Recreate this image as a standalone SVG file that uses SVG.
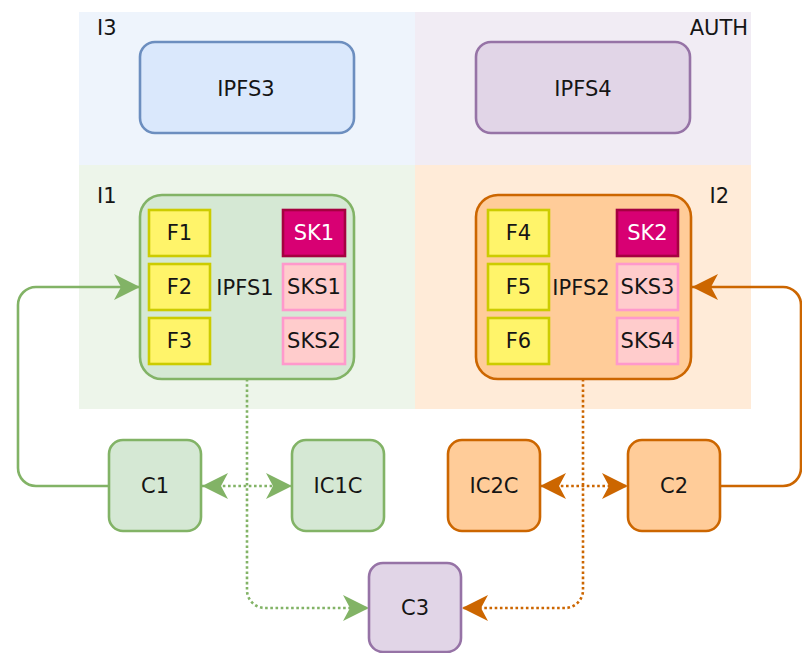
<svg xmlns="http://www.w3.org/2000/svg" width="802" height="653" viewBox="0 0 802 653">
<defs>
<style>
text{font-family:"DejaVu Sans","Liberation Sans",sans-serif;font-size:21px;fill:#151515;text-anchor:middle}
.lbl{text-anchor:start}
.end{text-anchor:end}
.f{fill:#fff46a;stroke:#cccc00;stroke-width:2.6}
.sk{fill:#d80073;stroke:#a50040;stroke-width:2.6}
.sks{fill:#ffcccc;stroke:#ff99cc;stroke-width:2.6}
.g{fill:#d5e8d4;stroke:#82b366;stroke-width:2.6}
.o{fill:#ffcc99;stroke:#cc6600;stroke-width:2.6}
.p{fill:#e1d5e7;stroke:#9673a6;stroke-width:2.6}
.b{fill:#dae8fc;stroke:#6c8ebf;stroke-width:2.6}
.cg{fill:none;stroke:#82b366;stroke-width:2.6}
.co{fill:none;stroke:#cc6600;stroke-width:2.6}
.dot{stroke-dasharray:2.6 2.6}
</style>
<marker id="ag" viewBox="0 0 26 26" refX="26" refY="13" markerWidth="26" markerHeight="26" markerUnits="userSpaceOnUse" orient="auto-start-reverse"><path d="M0,0 L26,13 L0,26 L7,13 Z" fill="#82b366"/></marker>
<marker id="ao" viewBox="0 0 26 26" refX="26" refY="13" markerWidth="26" markerHeight="26" markerUnits="userSpaceOnUse" orient="auto-start-reverse"><path d="M0,0 L26,13 L0,26 L7,13 Z" fill="#cc6600"/></marker>
</defs>
<g id="regions">
<rect x="79" y="12" width="336" height="153" fill="#eef4fc"/>
<rect x="415" y="12" width="336" height="153" fill="#f1ecf4"/>
<rect x="79" y="165" width="336" height="244" fill="#edf5ea"/>
<rect x="415" y="165" width="336" height="244" fill="#ffebd8"/>
<text class="lbl" x="97" y="35">I3</text>
<text class="end" x="748" y="35">AUTH</text>
<text class="lbl" x="97" y="203">I1</text>
<text class="end" x="729" y="203">I2</text>
</g>
<g id="connectors">
<path class="cg" d="M109,486 H36 A18,18 0 0 1 18,468 V305 A18,18 0 0 1 36,287 H140" marker-end="url(#ag)"/>
<path class="co" d="M720,486 H783 A18,18 0 0 0 801,468 V305 A18,18 0 0 0 783,287 H692" marker-end="url(#ao)"/>
<path class="cg dot" d="M247,379 V590 A18,18 0 0 0 265,608 H369" marker-end="url(#ag)"/>
<path class="co dot" d="M583,379 V590 A18,18 0 0 1 565,608 H462" marker-end="url(#ao)"/>
<path class="cg dot" d="M202,486 H292" marker-start="url(#ag)" marker-end="url(#ag)"/>
<path class="co dot" d="M540,486 H628" marker-start="url(#ao)" marker-end="url(#ao)"/>
</g>
<g id="IPFS3"><rect class="b" x="140" y="42" width="214" height="91" rx="15"/><text x="246" y="96">IPFS3</text></g>
<g id="IPFS4"><rect class="p" x="476" y="42" width="214" height="91" rx="15"/><text x="583" y="96">IPFS4</text></g>
<g id="IPFS1"><rect class="g" x="140" y="195" width="214" height="184" rx="22"/><text x="245" y="295">IPFS1</text></g>
<g id="F1"><rect class="f" x="149" y="210" width="61" height="46"/><text x="179.5" y="240">F1</text></g>
<g id="F2"><rect class="f" x="149" y="264" width="61" height="46"/><text x="179.5" y="294">F2</text></g>
<g id="F3"><rect class="f" x="149" y="318" width="61" height="46"/><text x="179.5" y="348">F3</text></g>
<g id="SK1"><rect class="sk" x="283" y="210" width="62" height="46"/><text x="314" y="240" style="fill:#ffffff">SK1</text></g>
<g id="SKS1"><rect class="sks" x="283" y="264" width="62" height="46"/><text x="314" y="294">SKS1</text></g>
<g id="SKS2"><rect class="sks" x="283" y="318" width="62" height="46"/><text x="314" y="348">SKS2</text></g>
<g id="IPFS2"><rect class="o" x="476" y="195" width="215" height="184" rx="22"/><text x="581" y="295">IPFS2</text></g>
<g id="F4"><rect class="f" x="488" y="210" width="61" height="46"/><text x="518.5" y="240">F4</text></g>
<g id="F5"><rect class="f" x="488" y="264" width="61" height="46"/><text x="518.5" y="294">F5</text></g>
<g id="F6"><rect class="f" x="488" y="318" width="61" height="46"/><text x="518.5" y="348">F6</text></g>
<g id="SK2"><rect class="sk" x="617" y="210" width="61" height="46"/><text x="647.5" y="240" style="fill:#ffffff">SK2</text></g>
<g id="SKS3"><rect class="sks" x="617" y="264" width="61" height="46"/><text x="647.5" y="294">SKS3</text></g>
<g id="SKS4"><rect class="sks" x="617" y="318" width="61" height="46"/><text x="647.5" y="348">SKS4</text></g>
<g id="C1"><rect class="g" x="109" y="440" width="92" height="91" rx="14"/><text x="155" y="493">C1</text></g>
<g id="IC1C"><rect class="g" x="292" y="440" width="92" height="91" rx="14"/><text x="338" y="493">IC1C</text></g>
<g id="IC2C"><rect class="o" x="448" y="440" width="92" height="91" rx="14"/><text x="494" y="493">IC2C</text></g>
<g id="C2"><rect class="o" x="628" y="440" width="92" height="91" rx="14"/><text x="674" y="493">C2</text></g>
<g id="C3"><rect class="p" x="369" y="563" width="92" height="89" rx="14"/><text x="415" y="615">C3</text></g>
</svg>
